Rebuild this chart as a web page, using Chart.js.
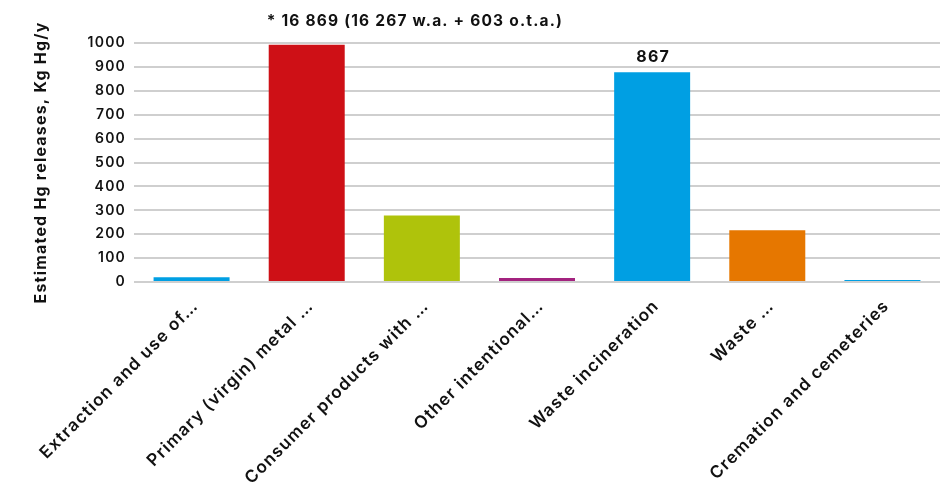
<!DOCTYPE html>
<html>
<head>
<meta charset="utf-8">
<script src="https://cdn.jsdelivr.net/npm/chart.js@4.4.1/dist/chart.umd.min.js"></script>
<style>
	html, body { margin: 0; padding: 0; background: #fff; }
	#wrap { width: 950px; height: 487px; }
</style>
</head>
<body>
<div id="wrap"><canvas id="hgChart" width="950" height="487"></canvas></div>
<script>
// data block
const categories = [
	'Extraction and use of…',
	'Primary (virgin) metal …',
	'Consumer products with …',
	'Other intentional…',
	'Waste incineration',
	'Waste …',
	'Cremation and cemeteries',
];
const releases = [20, 993, 278, 17, 878, 217, 8];
const valueLabels = ['', '* 16 869 (16 267 w.a. + 603 o.t.a.)', '', '', '867', '', ''];
const yTicks = [0, 100, 200, 300, 400, 500, 600, 700, 800, 900, 1000];
const barColors = ['#009fe3', '#ce1016', '#afc30b', '#a3237f', '#009fe3', '#e67700', '#009fe3'];

const fontFamily = 'Inter, "DejaVu Sans", sans-serif';

// wider letter spacing, the original font is a wide geometric one
const wideText = {
	id: 'wideText',
	beforeDraw(chart) {
		chart.ctx.letterSpacing = '1.2px';
	},
};

// draw the text above bars
const barLabels = {
	id: 'barLabels',
	afterDatasetsDraw(chart) {
		const ctx = chart.ctx;
		const meta = chart.getDatasetMeta(0);
		ctx.save();
		ctx.fillStyle = '#111';
		ctx.textBaseline = 'alphabetic';
		meta.data.forEach((bar, i) => {
			const txt = valueLabels[i];
			if (!txt) return;
			if (txt.length > 6) {
				// long note: starts at the bar's left edge, above the plot
				ctx.font = '700 15.5px ' + fontFamily;
				ctx.textAlign = 'left';
				ctx.fillText(txt, bar.x - bar.width / 2 - 2, chart.chartArea.top - 17);
			} else {
				ctx.font = '700 16px ' + fontFamily;
				ctx.textAlign = 'center';
				ctx.fillText(txt, bar.x + 1, bar.y - 10);
			}
		});
		ctx.restore();
	},
};

// config block
const config = {
	type: 'bar',
	data: {
		labels: categories,
		datasets: [
			{
				label: 'Hg releases',
				data: releases,
				backgroundColor: barColors,
				borderWidth: 0,
				barPercentage: 0.66,
				categoryPercentage: 1,
			},
		],
	},
	options: {
		responsive: false,
		animation: false,
		devicePixelRatio: 1,
		layout: {
			padding: { top: 43, right: 10, left: 0, bottom: 0 },
		},
		plugins: {
			legend: { display: false },
			tooltip: { enabled: false },
		},
		scales: {
			x: {
				grid: { display: false },
				border: { display: false },
				ticks: {
					color: '#111',
					font: { family: fontFamily, size: 17, weight: '600' },
					minRotation: 45,
					maxRotation: 45,
					autoSkip: false,
					padding: 6,
					labelOffset: 4,
				},
				afterFit(scale) {
					scale.height = 205;
				},
			},
			y: {
				min: 0,
				max: 1000,
				afterBuildTicks(scale) {
					scale.ticks = yTicks.map((v) => ({ value: v }));
				},
				grid: {
					color: '#cfcfcf',
					lineWidth: 2,
					drawTicks: false,
				},
				border: { display: false },
				ticks: {
					color: '#111',
					font: { family: fontFamily, size: 14, weight: '600' },
					padding: 8,
					callback: (v) => String(v),
				},
				title: {
					display: true,
					text: 'Estimated Hg releases, Kg Hg/y',
					color: '#111',
					font: { family: fontFamily, size: 16, weight: '700' },
					padding: { top: 32, bottom: 0 },
				},
				afterFit(scale) {
					scale.width = 134;
				},
			},
		},
	},
	plugins: [wideText, barLabels],
};

// render / init block
const hgChart = new Chart(document.getElementById('hgChart'), config);
</script>
</body>
</html>
